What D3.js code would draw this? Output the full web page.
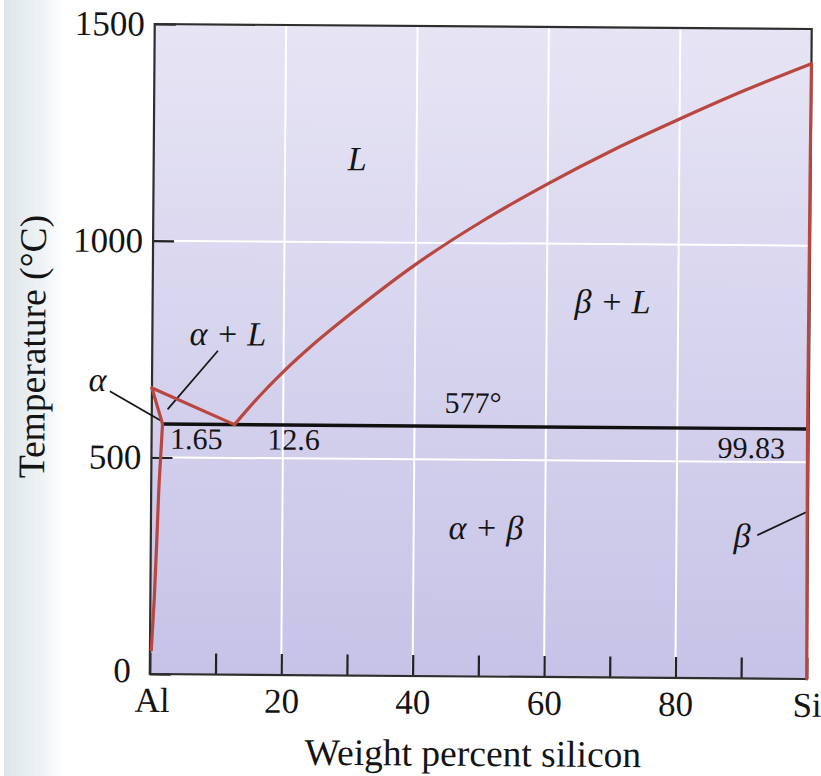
<!DOCTYPE html>
<html><head><meta charset="utf-8">
<script src="https://cdn.jsdelivr.net/npm/d3@7"></script>
<style>html,body{margin:0;padding:0;background:#fff}svg{display:block}</style>
</head><body>
<svg id="chart" width="821" height="776"></svg>
<script>
// Aluminium–silicon binary phase diagram

// axis ticks and labels
const compositionTicks = [0, 10, 20, 30, 40, 50, 60, 70, 80, 90, 100];
const compositionTickLabels = ["Al", "", "20", "", "40", "", "60", "", "80", "", "Si"];
const temperatureTicks = [0, 500, 1000, 1500];
const gridComposition = [20, 40, 60, 80];
const gridTemperature = [500, 1000];

// phase boundaries: [wt% Si, temperature °C]
const liquidusAl = [[0, 660], [12.6, 577]];
const liquidusSi = [[12.6, 577], [15, 620], [20, 700], [25, 770], [30, 833], [40, 950],
                    [50, 1050], [60, 1138], [70, 1218], [80, 1290], [90, 1358], [100, 1420]];
const solidusAlpha = [[0, 660], [1.65, 577]];
const solvusAlpha = [[1.65, 577], [1.4, 500], [1.2, 440], [1.0, 350], [0.6, 175], [0.2, 55]];
const boundaryBeta = [[100, 1420], [99.83, 577], [99.9, 300], [100, 0]];
const eutecticLine = [[1.65, 577], [99.83, 577]];

// phase-field and point labels, anchored in data coordinates
const fieldLabels = [
  {text: "L", c: 31.0, t: 1166},
  {text: "β + L", c: 70.0, t: 841},
  {text: "α + L", c: 11.5, t: 760},
  {text: "α + β", c: 51.0, t: 317},
  {text: "α", c: -8.3, t: 652},
  {text: "β", c: 90.0, t: 303}
];
const valueLabels = [
  {text: "577°", c: 48.9, t: 608},
  {text: "1.65", c: 6.8, t: 520},
  {text: "12.6", c: 21.6, t: 520},
  {text: "99.83", c: 91.3, t: 509}
];
const leaders = [
  [[-6.4, 652], [1.35, 585]],
  [[10.0, 747], [2.4, 611]],
  [[92.3, 331], [99.7, 385]]
];

const W = 821, H = 776;
const plotLeft = 152.25, plotRight = 809.25, plotTop = 26.5, plotBottom = 676.5;
const serif = "'Liberation Serif', 'Times New Roman', serif";
const red = "#b9473f";
const ink = "#141414";

const svg = d3.select("#chart");
const defs = svg.append("defs");

// pale page edge on the left
const edge = defs.append("linearGradient").attr("id", "edge").attr("x1", 0).attr("x2", 1);
edge.append("stop").attr("offset", 0).attr("stop-color", "#dde5ea");
edge.append("stop").attr("offset", 0.6).attr("stop-color", "#eef2f4");
edge.append("stop").attr("offset", 1).attr("stop-color", "#ffffff");
svg.append("rect").attr("x", 4).attr("y", 0).attr("width", 60).attr("height", H).attr("fill", "url(#edge)");

const bg = defs.append("linearGradient").attr("id", "bg").attr("x1", 0).attr("x2", 0).attr("y1", 0).attr("y2", 1);
bg.append("stop").attr("offset", 0).attr("stop-color", "#e7e5f4");
bg.append("stop").attr("offset", 0.5).attr("stop-color", "#d6d3ee");
bg.append("stop").attr("offset", 1).attr("stop-color", "#c7c3e7");

const g = svg.append("g")
  .attr("transform", `rotate(0.436, ${(plotLeft + plotRight) / 2}, ${(plotTop + plotBottom) / 2})`);

const x = d3.scaleLinear().domain([0, 100]).range([plotLeft, plotRight]);
const y = d3.scaleLinear().domain([0, 1500]).range([plotBottom, plotTop]);

g.append("rect").attr("x", plotLeft).attr("y", plotTop)
  .attr("width", plotRight - plotLeft).attr("height", plotBottom - plotTop).attr("fill", "url(#bg)");

// white grid
g.selectAll(".gx").data(gridComposition).join("line")
  .attr("x1", d => x(d)).attr("x2", d => x(d)).attr("y1", plotTop).attr("y2", plotBottom)
  .attr("stroke", "#ffffff").attr("stroke-width", 2);
g.selectAll(".gy").data(gridTemperature).join("line")
  .attr("y1", d => y(d)).attr("y2", d => y(d)).attr("x1", plotLeft).attr("x2", plotRight)
  .attr("stroke", "#ffffff").attr("stroke-width", 2);

// axes with inward ticks
const xAxis = d3.axisBottom(x).tickValues(compositionTicks)
  .tickFormat((d, i) => compositionTickLabels[i]).tickSizeInner(-21).tickSizeOuter(0).tickPadding(13);
const yAxis = d3.axisLeft(y).tickValues(temperatureTicks)
  .tickFormat(d3.format("d")).tickSizeInner(-21).tickSizeOuter(0).tickPadding(10);

const gx = g.append("g").attr("transform", `translate(0,${plotBottom})`).call(xAxis);
const gy = g.append("g").attr("transform", `translate(${plotLeft},0)`).call(yAxis);
[gx, gy].forEach(a => {
  a.select(".domain").remove();
  a.selectAll(".tick line").attr("stroke", "#222222").attr("stroke-width", 2.2);
  a.selectAll(".tick text").attr("font-family", serif).attr("font-size", 35).attr("fill", ink);
});
// keep the corner labels "0" and "Al" apart
gy.selectAll(".tick text").filter(d => d === 0).attr("x", -19).attr("dy", "0.22em");
gx.selectAll(".tick text").filter(d => d === 0).attr("dx", 2);

// frame
g.append("rect").attr("x", plotLeft).attr("y", plotTop)
  .attr("width", plotRight - plotLeft).attr("height", plotBottom - plotTop)
  .attr("fill", "none").attr("stroke", "#2e2e2e").attr("stroke-width", 2.2);

const line = d3.line().x(d => x(d[0])).y(d => y(d[1]));
const curve = d3.line().x(d => x(d[0])).y(d => y(d[1])).curve(d3.curveMonotoneX);
const curveY = d3.line().x(d => x(d[0])).y(d => y(d[1])).curve(d3.curveMonotoneY);

// leader lines
g.selectAll(".leader").data(leaders).join("path")
  .attr("d", line).attr("fill", "none").attr("stroke", ink).attr("stroke-width", 1.7);

// eutectic isotherm
g.append("path").datum(eutecticLine).attr("d", line)
  .attr("fill", "none").attr("stroke", "#101010").attr("stroke-width", 3.4);

// phase boundaries
const red3 = p => p.attr("fill", "none").attr("stroke", red).attr("stroke-width", 3.2)
  .attr("stroke-linejoin", "round").attr("stroke-linecap", "round");
red3(g.append("path").datum(liquidusAl).attr("d", line));
red3(g.append("path").datum(liquidusSi).attr("d", curve));
red3(g.append("path").datum(solidusAlpha).attr("d", line));
red3(g.append("path").datum(solvusAlpha).attr("d", curveY));
red3(g.append("path").datum(boundaryBeta).attr("d", curveY));

// labels
g.selectAll(".field").data(fieldLabels).join("text")
  .attr("x", d => x(d.c)).attr("y", d => y(d.t))
  .attr("text-anchor", "middle").attr("font-family", serif).attr("font-style", "italic")
  .attr("font-size", 34).attr("fill", ink).attr("xml:space", "preserve")
  .text(d => d.text);
g.selectAll(".value").data(valueLabels).join("text")
  .attr("x", d => x(d.c)).attr("y", d => y(d.t))
  .attr("text-anchor", "middle").attr("font-family", serif)
  .attr("font-size", 30).attr("fill", ink)
  .text(d => d.text);

// axis titles
g.append("text").attr("x", 476).attr("y", 766)
  .attr("text-anchor", "middle").attr("font-family", serif).attr("font-size", 37.5).attr("fill", ink)
  .text("Weight percent silicon");
g.append("text").attr("transform", `translate(45,350) rotate(-90)`)
  .attr("text-anchor", "middle").attr("font-family", serif).attr("font-size", 37.5).attr("fill", ink)
  .text("Temperature (°C)");
</script>
</body></html>
